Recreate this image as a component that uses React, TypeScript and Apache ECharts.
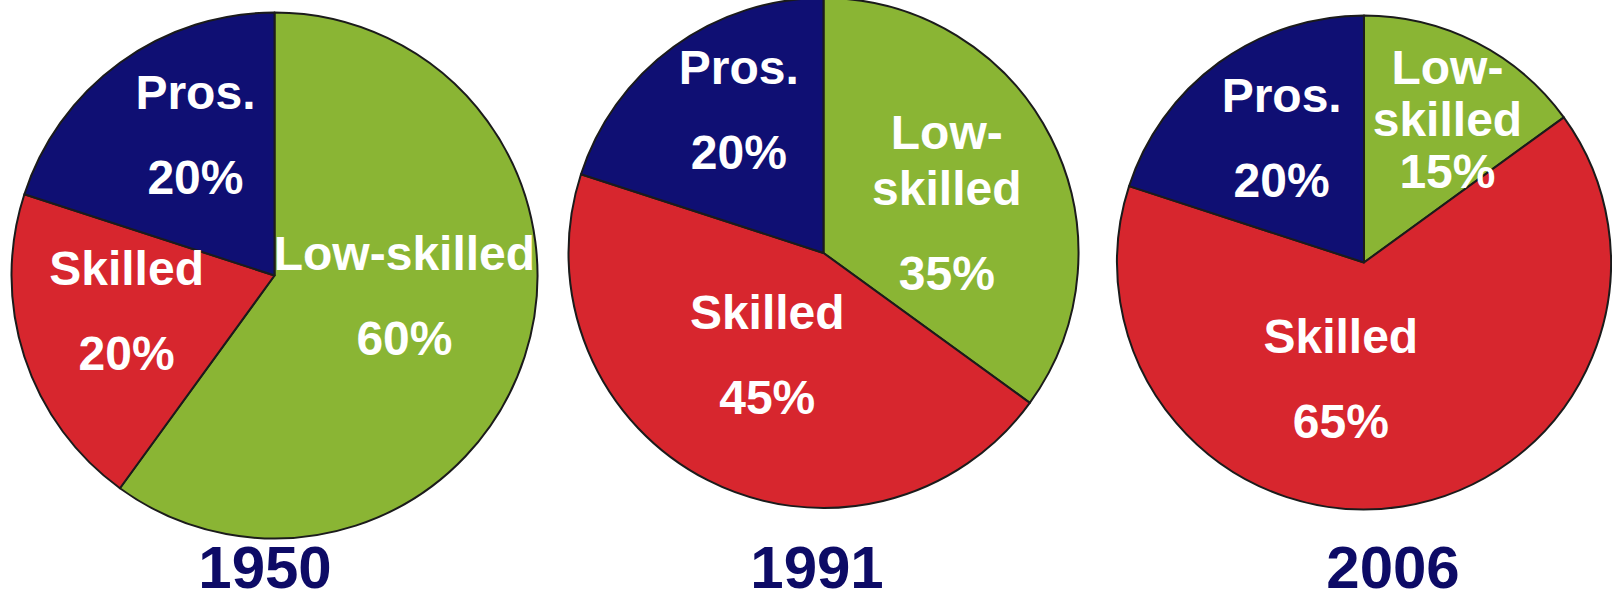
import React, { useEffect, useRef } from "react";
import * as echarts from "echarts";

// ---- data ----
const categories = ["Low-skilled", "Skilled", "Pros."];
const years = ["1950", "1991", "2006"];
const values1950 = [60, 20, 20];
const values1991 = [35, 45, 20];
const values2006 = [15, 65, 20];
const labels1950 = ["Low-skilled", "Skilled", "Pros."];
const labels1991 = ["Low-\nskilled", "Skilled", "Pros."];
const labels2006 = ["Low-\nskilled", "Skilled", "Pros."];

// ---- styles / layout ----
const sliceColors = ["#8ab534", "#d7262e", "#0f0f73"];
const yearColor = "#0d0b66";
const FONT = "'Liberation Sans', Arial, Helvetica, sans-serif";

const pieLayouts = [
  { center: [274.5, 275.5], r: 263, nudge: [[2, -7], [-20, 8], [0, -17]], tight: [false, false, false], yearX: 265 },
  { center: [823.5, 253], r: 255, nudge: [[7, 24], [3, 0], [-8, -23]], tight: [false, false, false], yearX: 817 },
  { center: [1364, 262.5], r: 247, nudge: [[26, -30], [-43, 6], [-8, -8]], tight: [true, false, false], yearX: 1393 },
];

const allValues = [values1950, values1991, values2006];
const allLabels = [labels1950, labels1991, labels2006];

export default function App() {
  const ref = useRef<HTMLDivElement>(null);

  useEffect(() => {
    if (!ref.current) return;
    const chart = echarts.init(ref.current, undefined, { renderer: "svg" });

    const baseText = {
      fontSize: 48,
      fontWeight: "bold" as const,
      color: "#ffffff",
      fontFamily: FONT,
    };

    const series = years.map((year, i) => {
      const lay = pieLayouts[i];
      const vals = allValues[i];
      const names = allLabels[i];
      return {
        type: "pie",
        name: year,
        center: lay.center,
        radius: lay.r,
        startAngle: 90,
        clockwise: true,
        avoidLabelOverlap: false,
        silent: true,
        emphasis: { disabled: true },
        itemStyle: { borderColor: "#1b1b1b", borderWidth: 2 },
        labelLine: { show: false },
        label: {
          show: true,
          position: "inside",
          ...baseText,
          formatter: (p: any) => {
            const tight = lay.tight[p.dataIndex];
            const nTag = tight ? "t" : "n";
            const vTag = tight ? "t" : "v";
            const parts = names[p.dataIndex].split("\n");
            return parts.map((s) => `{${nTag}|${s}}`).join("\n") + `\n{${vTag}|${p.value}%}`;
          },
          rich: {
            n: { ...baseText, lineHeight: 56 },
            v: { ...baseText, lineHeight: 114 },
            t: { ...baseText, lineHeight: 52 },
          },
        },
        labelLayout: (params: any) => ({
          dx: lay.nudge[params.dataIndex][0],
          dy: lay.nudge[params.dataIndex][1],
        }),
        data: categories.map((c, k) => ({
          name: c,
          value: vals[k],
          itemStyle: { color: sliceColors[k] },
        })),
      };
    });

    const graphic = years.map((year, i) => ({
      type: "text",
      x: pieLayouts[i].yearX,
      y: 567,
      style: {
        text: year,
        fill: yearColor,
        fontSize: 60,
        lineHeight: 60,
        fontWeight: "bold",
        fontFamily: FONT,
        textAlign: "center",
        textVerticalAlign: "middle",
      },
    }));

    chart.setOption({
      animation: false,
      backgroundColor: "#ffffff",
      series,
      graphic,
    } as any);

    return () => chart.dispose();
  }, []);

  return (
    <div
      ref={ref}
      style={{ position: "fixed", left: 0, top: 0, width: 1612, height: 599 }}
    />
  );
}
